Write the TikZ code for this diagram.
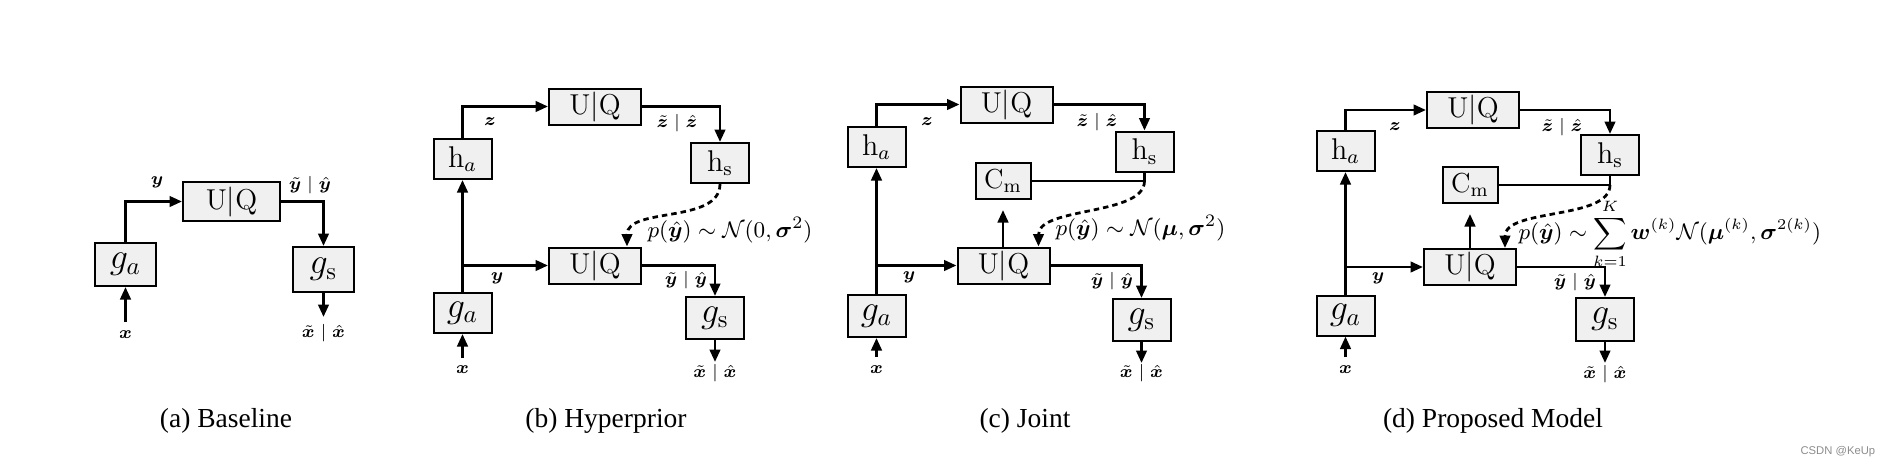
\documentclass[tikz,border=0pt]{standalone}
\usepackage{amsmath}
\usepackage{bm}
\usepackage{fontspec}
\newfontfamily\capfont{Liberation Serif}
\newfontfamily\wmfont{Liberation Sans}
\usetikzlibrary{arrows.meta, calc}

\tikzset{
  blk/.style={draw, line width=0.8pt, fill=black!6, inner sep=0pt,
    minimum width=23.2pt, minimum height=16pt, font=\fontsize{12}{14}\selectfont},
  gbox/.style={blk, font=\fontsize{14}{16}\selectfont},
  uq/.style={blk, minimum width=36.8pt, minimum height=14.4pt, font=\fontsize{11.5}{13}\selectfont},
  cmbox/.style={blk, minimum width=22pt, minimum height=14.4pt, font=\fontsize{11}{13}\selectfont},
  lbl/.style={inner sep=0pt, font=\fontsize{7.2}{8}\selectfont},
  flow/.style={->, line width=1.1pt},
  link/.style={line width=1.1pt},
  dotflow/.style={->, line width=1.1pt, dash pattern=on 2.2pt off 1.6pt},
  prob/.style={inner sep=0pt, anchor=west, font=\fontsize{9.5}{11}\selectfont},
  captext/.style={font=\capfont\fontsize{11}{13}\selectfont},
}

\begin{document}
\begin{tikzpicture}[x=0.4pt, y=-0.4pt, >={Triangle[length=5pt,width=4.2pt]}]
\useasboundingbox (0,0) rectangle (1896,467);

% (a) baseline
  \node[gbox, minimum width=24.4pt, minimum height=17.2pt] (gaa) at (125.5,264.5) {$g_a$};
  \node[uq, minimum width=38.8pt, minimum height=15.6pt]  (uqa) at (231.5,201.5) {U$|$Q};
  \node[gbox, minimum width=24.4pt, minimum height=18pt]   (gsa) at (323.5,269.5) {$g_{\mathrm{s}}$};
  \coordinate (ina)  at (125.5,322);
  \coordinate (outa) at (323.5,317);

  \draw[flow] (ina) -- (gaa.south);
  \draw[flow] (gaa.north) |- (uqa.west);
  \draw[flow] (uqa.east) -| (gsa.north);
  \draw[flow] (gsa.south) -- (outa);

  \node[lbl] (xa)  at (125.5,335) {$\bm{x}$};
  \node[lbl] (ya)  at (157,182)   {$\bm{y}$};
  \node[lbl] (yqa) at (310,185)   {$\tilde{\bm{y}}\mid\hat{\bm{y}}$};
  \node[lbl] (xqa) at (323.5,333) {$\tilde{\bm{x}}\mid\hat{\bm{x}}$};

% (b) hyperprior
  \node[blk]  (hab)  at (462.5,159)   {$\mathrm{h}_a$};
  \node[gbox] (gab)  at (462.5,313)   {$g_a$};
  \node[uq]   (uqbt) at (595,106.5)   {U$|$Q};
  \node[blk]  (hsb)  at (720,163)     {$\mathrm{h}_{\mathrm{s}}$};
  \node[uq]   (uqbb) at (595,265.5)   {U$|$Q};
  \node[gbox, minimum height=16.8pt] (gsb) at (715,318) {$g_{\mathrm{s}}$};
  \coordinate (inb)  at (462.5,358);
  \coordinate (outb) at (715,362);
  \coordinate (brb)  at (gab.north |- uqbb.west);
  \coordinate (pb)   at ($(uqbb.north)+(32,0)$);

  \draw[flow] (inb) -- (gab.south);
  \draw[flow] (gab.north) -- (hab.south);
  \draw[flow] (hab.north) |- (uqbt.west);
  \draw[flow] (uqbt.east) -| (hsb.north);
  \draw[flow] (brb) -- (uqbb.west);
  \draw[flow] (uqbb.east) -| (gsb.north);
  \draw[flow] (gsb.south) -- (outb);
  \draw[dotflow] (hsb.south) .. controls ($(hsb.south)+(0,40)$) and ($(pb)+(0,-40)$) .. (pb);

  \node[lbl] (zb)  at (490,122)   {$\bm{z}$};
  \node[lbl] (zqb) at (677,123)   {$\tilde{\bm{z}}\mid\hat{\bm{z}}$};
  \node[lbl] (yb)  at (497,278)   {$\bm{y}$};
  \node[lbl] (yqb) at (686,280)   {$\tilde{\bm{y}}\mid\hat{\bm{y}}$};
  \node[lbl] (xb)  at (462.5,370) {$\bm{x}$};
  \node[lbl] (xqb) at (715,373)   {$\tilde{\bm{x}}\mid\hat{\bm{x}}$};
  \node[prob] (pyb) at (647,230)  {$p(\hat{\bm{y}}) \sim \mathcal{N}(0,\bm{\sigma}^2)$};

% (c) joint
  \node[blk]  (hac)  at (876.5,147)   {$\mathrm{h}_a$};
  \node[gbox, minimum height=16.8pt] (gac) at (876.5,316) {$g_a$};
  \node[uq]   (uqct) at (1006.5,104.5) {U$|$Q};
  \node[blk]  (hsc)  at (1144.5,151.5) {$\mathrm{h}_{\mathrm{s}}$};
  \node[cmbox] (cmc) at (1003,181)   {$\mathrm{C}_{\mathrm{m}}$};
  \node[uq]   (uqcb) at (1003.5,265.5) {U$|$Q};
  \node[gbox, minimum height=16.8pt] (gsc) at (1141.5,320) {$g_{\mathrm{s}}$};
  \coordinate (inc)  at (876.5,357);
  \coordinate (outc) at (1141.5,363);
  \coordinate (brc)  at (gac.north |- uqcb.west);
  \coordinate (jc)   at (hsc.south |- cmc.east);
  \coordinate (pc)   at ($(uqcb.north)+(35,0)$);

  \draw[flow] (inc) -- (gac.south);
  \draw[flow] (gac.north) -- (hac.south);
  \draw[flow] (hac.north) |- (uqct.west);
  \draw[flow] (uqct.east) -| (hsc.north);
  \draw[link] (hsc.south) |- (cmc.east);
  \draw[flow, shorten >=4pt] (uqcb.north -| cmc.south) -- (cmc.south);
  \draw[flow] (brc) -- (uqcb.west);
  \draw[flow] (uqcb.east) -| (gsc.north);
  \draw[flow] (gsc.south) -- (outc);
  \draw[dotflow] (jc) .. controls ($(jc)+(0,35)$) and ($(pc)+(0,-40)$) .. (pc);

  \node[lbl] (zc)  at (927,122)    {$\bm{z}$};
  \node[lbl] (zqc) at (1097,122)   {$\tilde{\bm{z}}\mid\hat{\bm{z}}$};
  \node[lbl] (yc)  at (909,277)    {$\bm{y}$};
  \node[lbl] (yqc) at (1112,281)   {$\tilde{\bm{y}}\mid\hat{\bm{y}}$};
  \node[lbl] (xc)  at (876.5,370)  {$\bm{x}$};
  \node[lbl] (xqc) at (1141.5,373) {$\tilde{\bm{x}}\mid\hat{\bm{x}}$};
  \node[prob] (pyc) at (1055,228)  {$p(\hat{\bm{y}}) \sim \mathcal{N}(\bm{\mu},\bm{\sigma}^2)$};

% (d) proposed model
  \node[blk]  (had)  at (1345.5,151)  {$\mathrm{h}_a$};
  \node[gbox] (gad)  at (1345.5,315.5) {$g_a$};
  \node[uq]   (uqdt) at (1473,110)    {U$|$Q};
  \node[blk]  (hsd)  at (1610,155)    {$\mathrm{h}_{\mathrm{s}}$};
  \node[cmbox] (cmd) at (1470,185)   {$\mathrm{C}_{\mathrm{m}}$};
  \node[uq]   (uqdb) at (1470,267)    {U$|$Q};
  \node[gbox, minimum height=17.2pt] (gsd) at (1605,319.5) {$g_{\mathrm{s}}$};
  \coordinate (ind)  at (1345.5,357);
  \coordinate (outd) at (1605,363);
  \coordinate (brd)  at (gad.north |- uqdb.west);
  \coordinate (jd)   at (hsd.south |- cmd.east);
  \coordinate (pd)   at ($(uqdb.north)+(35,0)$);

  \draw[flow] (ind) -- (gad.south);
  \draw[flow] (gad.north) -- (had.south);
  \draw[flow] (had.north) |- (uqdt.west);
  \draw[flow] (uqdt.east) -| (hsd.north);
  \draw[link] (hsd.south) |- (cmd.east);
  \draw[flow, shorten >=4pt] (uqdb.north -| cmd.south) -- (cmd.south);
  \draw[flow] (brd) -- (uqdb.west);
  \draw[flow] (uqdb.east) -| (gsd.north);
  \draw[flow] (gsd.south) -- (outd);
  \draw[dotflow] (jd) .. controls ($(jd)+(0,35)$) and ($(pd)+(0,-40)$) .. (pd);

  \node[lbl] (zd)  at (1395,127)   {$\bm{z}$};
  \node[lbl] (zqd) at (1562,127)   {$\tilde{\bm{z}}\mid\hat{\bm{z}}$};
  \node[lbl] (yd)  at (1378,278)   {$\bm{y}$};
  \node[lbl] (yqd) at (1575,282)   {$\tilde{\bm{y}}\mid\hat{\bm{y}}$};
  \node[lbl] (xd)  at (1345.5,370) {$\bm{x}$};
  \node[lbl] (xqd) at (1605,374)   {$\tilde{\bm{x}}\mid\hat{\bm{x}}$};
  \node[prob, font=\fontsize{8.8}{10}\selectfont] (pyd) at (1518,234)
    {$p(\hat{\bm{y}}) \sim \displaystyle\sum_{k=1}^{K} \bm{w}^{(k)}\mathcal{N}(\bm{\mu}^{(k)},\bm{\sigma}^{2(k)})$};

% captions
  \node[captext] (capa) at (226,421)  {(a) Baseline};
  \node[captext] (capb) at (606,421)  {(b) Hyperprior};
  \node[captext] (capc) at (1025,421) {(c) Joint};
  \node[captext] (capd) at (1493,421) {(d) Proposed Model};
  \node[font=\wmfont\fontsize{4.5}{5}\selectfont, text=black!45, anchor=east] (mark) at (1884,452) {CSDN @KeUp};

\end{tikzpicture}
\end{document}
